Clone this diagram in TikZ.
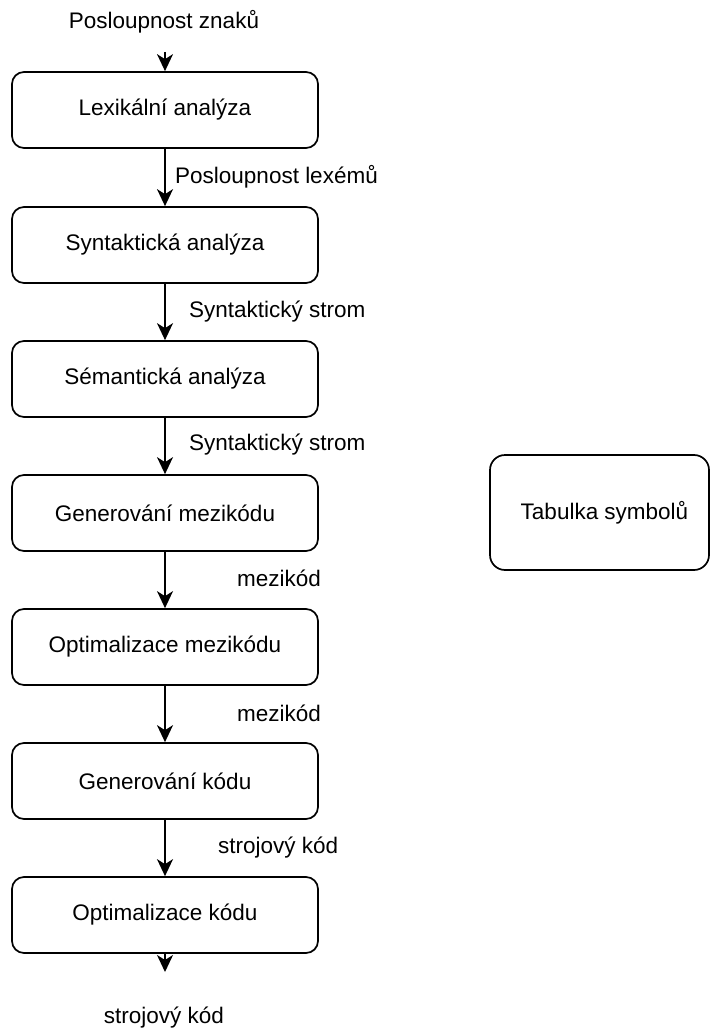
\documentclass[tikz,border=0pt]{standalone}
\usepackage{fontspec}
\setmainfont{Liberation Sans}
\usetikzlibrary{arrows.meta}
\begin{document}
\begin{tikzpicture}[x=1pt,y=-1pt,
  stage/.style={draw=black, line width=1.7pt, rounded corners=12pt, minimum width=306pt, minimum height=76pt, inner sep=0pt, font=\fontsize{22.5}{27}\selectfont},
  lbl/.style={inner sep=0pt, font=\fontsize{22.5}{27}\selectfont},
  arr/.style={draw=black, line width=1.7pt, -{Stealth[length=17pt,width=16pt,inset=5pt]}}]
\useasboundingbox (0,0) rectangle (710,1032);
\fill[white] (0,0) rectangle (710,1032);
\begin{scope}
\clip (0,0) rectangle (710,1032);
\node[stage, rounded corners=15pt, minimum width=219pt, minimum height=115pt] (tab) at (599.5,512.5) {\hspace*{10pt}Tabulka symbolů};
\end{scope}
\node[lbl] (in) at (164,22) {Posloupnost znaků};
\node[stage] (b1) at (165,110) {Lexikální analýza};
\node[stage] (b2) at (165,245) {Syntaktická analýza};
\node[stage] (b3) at (165,379) {Sémantická analýza};
\node[stage] (b4) at (165,513) {Generování mezikódu};
\node[stage] (b5) at (165,647) {Optimalizace mezikódu};
\node[stage] (b6) at (165,781) {Generování kódu};
\node[stage] (b7) at (165,915) {Optimalizace kódu};
\node[lbl] (out) at (164,1018) {strojový kód};
\coordinate (s0) at (165,52);
\coordinate (e7) at (165,972);
\draw[arr] (s0) -- (b1.north);
\draw[arr] (b1.south) -- (b2.north);
\draw[arr] (b2.south) -- (b3.north);
\draw[arr] (b3.south) -- (b4.north);
\draw[arr] (b4.south) -- (b5.north);
\draw[arr] (b5.south) -- (b6.north);
\draw[arr] (b6.south) -- (b7.north);
\draw[arr] (b7.south) -- (e7);
\node[lbl, anchor=west] (l1) at (175,177) {Posloupnost lexémů};
\node[lbl, anchor=west] (l2) at (189,312) {Syntaktický strom};
\node[lbl, anchor=west] (l3) at (189,445) {Syntaktický strom};
\node[lbl, anchor=west] (l4) at (237,578) {mezikód};
\node[lbl, anchor=west] (l5) at (237,713) {mezikód};
\node[lbl, anchor=west] (l6) at (218,848) {strojový kód};
\end{tikzpicture}
\end{document}
